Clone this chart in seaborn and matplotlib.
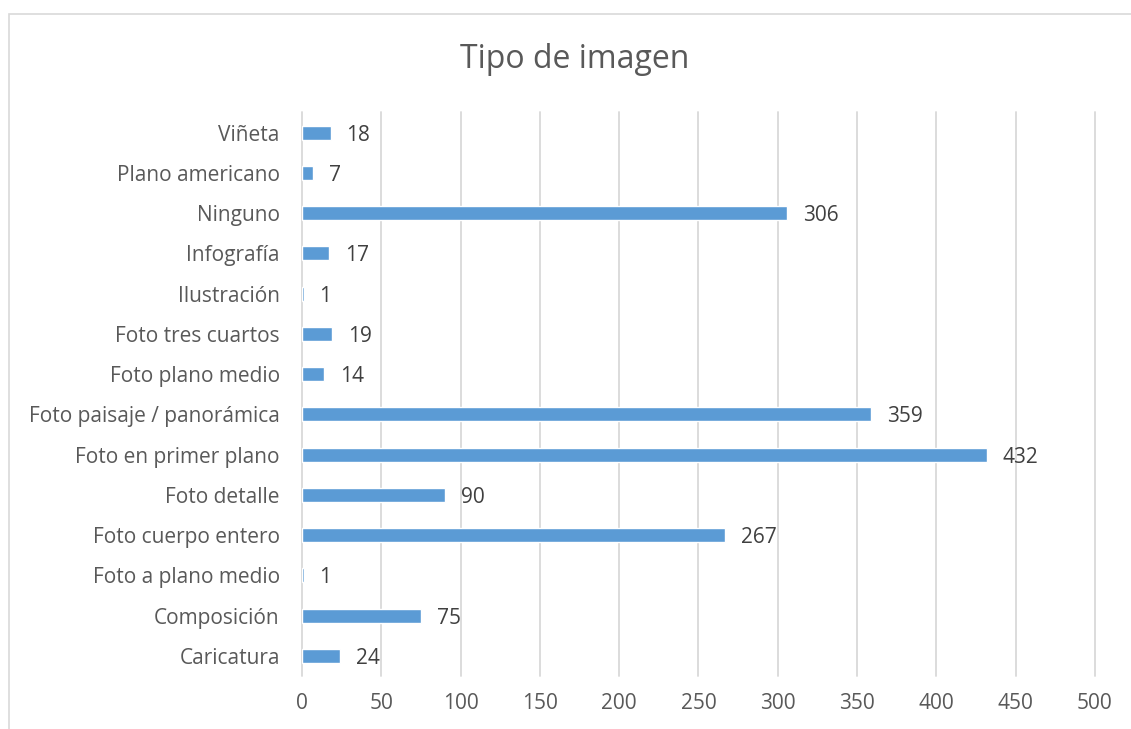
import matplotlib
matplotlib.use("Agg")
import pandas as pd
import numpy as np
import seaborn as sns
from matplotlib import pyplot as plt

# categories top to bottom as shown
categorias = ["Viñeta", "Plano americano", "Ninguno", "Infografía", "Ilustración",
              "Foto tres cuartos", "Foto plano medio", "Foto paisaje / panorámica",
              "Foto en primer plano", "Foto detalle", "Foto cuerpo entero",
              "Foto a plano medio", "Composición", "Caricatura"]
valores = [18, 7, 306, 17, 1, 19, 14, 359, 432, 90, 267, 1, 75, 24]
ticks_x = [0, 50, 100, 150, 200, 250, 300, 350, 400, 450, 500]

df = pd.DataFrame({"Tipo": categorias, "Total": valores})

sns.set_style("white")
plt.rcParams['font.family'] = ['Open Sans', 'DejaVu Sans']

fig = plt.figure(figsize=(11.31, 7.29), dpi=100)
ax = fig.add_axes([0.267, 0.0727, 0.701, 0.773])

sns.barplot(data=df, x="Total", y="Tipo", color="#5B9BD5", width=0.35,
            saturation=1, ax=ax, zorder=3)

ax.set_xlim(0, 500)
ax.set_xticks(ticks_x)
ax.set_xlabel("")
ax.set_ylabel("")
ax.grid(axis="x", color="#D9D9D9", linewidth=1.3, zorder=0)
ax.grid(axis="y", visible=False)
for gl in ax.get_xgridlines():
    gl.set_clip_on(False)
for s in ax.spines.values():
    s.set_visible(False)
ax.tick_params(axis="both", length=0, labelsize=15, colors="#595959")
ax.tick_params(axis="x", pad=12)
ax.tick_params(axis="y", pad=16)

for i, v in enumerate(valores):
    ax.annotate(str(v), (v, i), xytext=(11.5, 0), textcoords="offset points",
                va="center_baseline", ha="left", fontsize=15, color="#404040")

fig.text(0.508, 0.918, "Tipo de imagen", ha="center", va="center",
         fontsize=23, color="#595959")

# chart border like the excel frame
fig.patches.append(plt.Rectangle((0.008, -0.01), 1.0, 0.991, transform=fig.transFigure,
                                 fill=False, edgecolor="#D9D9D9", linewidth=1.2))

fig.savefig("out.png", dpi=100)
